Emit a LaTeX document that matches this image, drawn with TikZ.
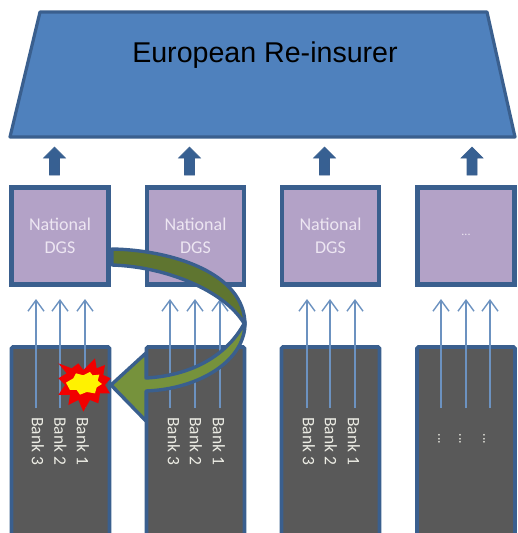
\documentclass[tikz,border=0pt]{standalone}
\usepackage{fontspec}
\setmainfont{Carlito}
\newfontfamily\arialfont{Liberation Sans}
\usetikzlibrary{arrows.meta}
\definecolor{edgeblue}{HTML}{3A5F8E}
\definecolor{topblue}{HTML}{4F81BD}
\definecolor{dgsfill}{HTML}{B3A2C7}
\definecolor{bankfill}{HTML}{595959}
\definecolor{thinblue}{HTML}{6C92C0}
\definecolor{blockblue}{HTML}{376092}
\definecolor{backgreen}{HTML}{5F7530}
\definecolor{frontgreen}{HTML}{76923C}
\definecolor{textlight}{HTML}{EDE6F2}
\definecolor{banktext}{HTML}{ECECE4}
\tikzset{
  dgsbox/.style={draw=edgeblue,line width=4.2pt,fill=dgsfill,minimum width=97pt,minimum height=97pt,inner sep=0pt,align=center,
    text=textlight,font=\fontsize{18}{23}\selectfont},
  bankbox/.style={draw=edgeblue,line width=3.8pt,fill=bankfill,minimum width=98pt,minimum height=192pt,inner sep=0pt,rounded corners=1.5pt},
  banklabel/.style={rotate=-90,anchor=west,text=banktext,inner sep=0pt,font=\fontsize{17.5}{17.5}\selectfont},
  thinarrow/.style={draw=thinblue,line width=1.6pt,-{Straight Barb[length=11pt,width=16pt,line width=1.4pt]}},
  blockarrow/.style={fill=blockblue,draw=edgeblue,line width=.6pt},
  arrowedge/.style={draw=edgeblue,line width=3.4pt,line join=round},
}
\begin{document}
\begin{tikzpicture}[x=1pt,y=-1pt]
\useasboundingbox (0,0) rectangle (517,533);
\clip (0,0) rectangle (517,533);
% re-insurer
\draw[draw=edgeblue,line width=3.2pt,fill=topblue,line join=round]
  (40,12) -- (487,12) -- (515,137) -- (10,137) -- cycle;
\node (reins) at (265,55) {\arialfont\fontsize{28.6}{32}\selectfont European Re-insurer};
% DGS boxes
\node[dgsbox] (d1) at (60,236) {National\\DGS};
\node[dgsbox] (d2) at (195.5,236) {National\\DGS};
\node[dgsbox] (d3) at (330.5,236) {National\\DGS};
\node[dgsbox] (d4) at (466,236) {\raisebox{2pt}{\fontsize{12}{12}\selectfont ...}};
% top arrows
\foreach \x/\n in {54.5/1,189.5/2,324.5/3,472/4}{
  \coordinate (up\n) at (\x,175);
  \draw[blockarrow] (up\n) ++(-5,0) -- ++(0,-17) -- ++(-6,0) -- ++(11,-11) -- ++(11,11) -- ++(-6,0) -- ++(0,17) -- cycle;
}
% bank boxes
\node[bankbox] (b1) at (60.5,443) {};
\node[bankbox] (b2) at (195.5,443) {};
\node[bankbox] (b3) at (330.5,443) {};
\node[bankbox] (b4) at (466,443) {};
% thin arrows
\foreach \x/\n in {36/a,60/b,85/c,170/d,195/e,220/f,307/g,330/h,355/i,441/j,466/k,490/l}{
  \coordinate (s\n) at (\x,408);
  \coordinate (t\n) at (\x,299);
  \draw[thinarrow] (s\n) -- (t\n);
}
% bank labels
\foreach \x/\t/\n in {83/Bank 1/p,60.5/Bank 2/q,38/Bank 3/r,219/Bank 1/s,196/Bank 2/t,174/Bank 3/u,354/Bank 1/v,331/Bank 2/w,309/Bank 3/x}{
  \node[banklabel] (lab\n) at (\x,417) {\t};
}
\foreach \x/\n in {484/m,460/n,439/o}{
  \node[banklabel,font=\fontsize{14}{14}\selectfont,anchor=center] (dots\n) at (\x,439) {...};
}
% curved arrow: back face
\draw[arrowedge,fill=backgreen]
  (112,249) .. controls (170,250) and (245,272) .. (245,325)
  .. controls (228,294) and (172,267) .. (112,265) -- cycle;
% curved arrow: front face with head
\draw[arrowedge,fill=frontgreen]
  (245,322) .. controls (246,360) and (200,389) .. (146,391)
  -- (146,421) -- (111,385) -- (146,353) -- (146,378)
  .. controls (185,376) and (225,360) .. (245,322) -- cycle;
% explosion
\begin{scope}[shift={(0,230)},x=0.3333pt,y=-0.3333pt]
\fill[red!95!black] (175,400) -- (215,415) -- (235,400) -- (250,420) -- (285,385) -- (290,415) -- (315,405) -- (310,435) -- (332,445) -- (315,465) -- (330,490) -- (300,490) -- (295,520) -- (270,510) -- (250,545) -- (235,510) -- (205,525) -- (210,495) -- (175,495) -- (195,465) -- (175,445) -- (200,430) -- cycle;
\fill[yellow] (198,458) -- (220,445) -- (228,430) -- (250,436) -- (270,426) -- (278,436) -- (298,434) -- (293,452) -- (306,462) -- (290,472) -- (285,490) -- (260,486) -- (240,494) -- (230,480) -- (210,480) -- cycle;
\end{scope}
\end{tikzpicture}
\end{document}
